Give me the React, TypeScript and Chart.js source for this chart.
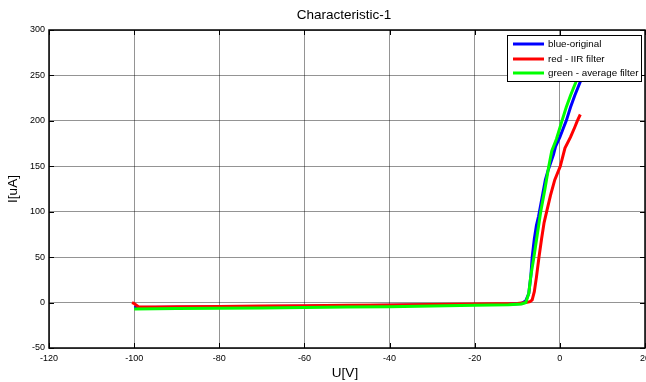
import { useEffect, useRef } from "react";
import { Chart, registerables } from "chart.js";

Chart.register(...registerables);

// Measured I-U characteristic and two filtered versions of it
const blueU = [-100, -90, -80, -70, -60, -50, -40, -30, -20, -12, -9, -8, -7.3, -6.8, -6.5, -6, -5.5, -5, -4.6, -4, -3.4, -2.8, -2.3, -1.5, -1, 0, 0.9, 1.5, 2.5, 3.5, 4.8, 5.5];
const blueI = [-5.5, -5.2, -4.8, -4.4, -4, -3.5, -3, -2.5, -2, -1.8, -1, 2, 10, 30, 50, 70, 85, 95, 105, 120, 135, 145, 152, 163, 172, 182, 193, 200, 215, 228, 243, 252];

const redU = [-100.5, -100, -99, -95, -90, -80, -70, -60, -50, -40, -30, -20, -10, -8, -7, -6.5, -6, -5.5, -4.9, -4.3, -3.7, -3.1, -2.2, -1.2, 0.1, 1.2, 2.5, 3.5, 4.1, 4.8];
const redI = [0, -1, -4.5, -4.8, -4.6, -4.3, -3.9, -3.5, -3, -2.6, -2, -1.5, -1, 0, 1, 3, 12, 28, 50, 70, 88, 100, 118, 135, 150, 170, 182, 193, 200, 207];

const greenU = [-100, -90, -80, -70, -60, -50, -40, -30, -20, -12, -9, -8, -7.3, -6.8, -6.1, -5.3, -4.5, -3.5, -2.6, -1.9, -0.8, 0.5, 1.5, 2.5, 3.7, 4.3];
const greenI = [-7, -6.6, -6.3, -5.9, -5.5, -5, -4.5, -3.8, -3, -2.5, -1.5, 0, 10, 30, 50, 75, 100, 125, 150, 167, 180, 200, 215, 228, 242, 250];

const seriesLabels = ["blue-original", "red - IIR filter", "green - average filter"];
const seriesColors = ["#0000ff", "#ff0000", "#00ff00"];

const xTickMin = -120;
const xTickMax = 20;
const xTickStep = 20;
const yTickMin = -50;
const yTickMax = 300;
const yTickStep = 50;

const chartTitle = "Characteristic-1";
const xTitle = "U[V]";
const yTitle = "I[uA]";

const FONT = "Arial, 'Liberation Sans', sans-serif";

const toPoints = (u: number[], i: number[]) => u.map((x, k) => ({ x, y: i[k] }));

// Axes frame with inward tick marks, titles and a boxed legend inside the plot
const decorations = {
  id: "decorations",
  afterDraw(chart: any) {
    const { ctx, chartArea: a, scales } = chart;
    const xs = scales.x;
    const ys = scales.y;
    ctx.save();
    ctx.strokeStyle = "#000";

    // inward ticks
    ctx.lineWidth = 1;
    ctx.beginPath();
    for (let v = xTickMin; v <= xTickMax; v += xTickStep) {
      const px = Math.round(xs.getPixelForValue(v)) + 0.5;
      ctx.moveTo(px, a.bottom);
      ctx.lineTo(px, a.bottom - 5);
      ctx.moveTo(px, a.top);
      ctx.lineTo(px, a.top + 5);
    }
    for (let v = yTickMin; v <= yTickMax; v += yTickStep) {
      const py = Math.round(ys.getPixelForValue(v)) + 0.5;
      ctx.moveTo(a.left, py);
      ctx.lineTo(a.left + 5, py);
      ctx.moveTo(a.right, py);
      ctx.lineTo(a.right - 5, py);
    }
    ctx.stroke();

    // frame
    ctx.lineWidth = 1.5;
    ctx.strokeRect(a.left, a.top, a.right - a.left, a.bottom - a.top);

    // titles
    ctx.fillStyle = "#000";
    ctx.font = `13.5px ${FONT}`;
    ctx.textAlign = "center";
    ctx.textBaseline = "middle";
    ctx.fillText(chartTitle, 344, 15);
    ctx.fillText(xTitle, 345, 373);
    ctx.save();
    ctx.translate(13.5, 189);
    ctx.rotate(-Math.PI / 2);
    ctx.fillText(yTitle, 0, 0);
    ctx.restore();

    // legend box
    const bx = 507.5, by = 35.5, bw = 134, bh = 46;
    ctx.fillStyle = "#fff";
    ctx.fillRect(bx, by, bw, bh);
    ctx.lineWidth = 1;
    ctx.strokeStyle = "#000";
    ctx.strokeRect(bx, by, bw, bh);
    ctx.font = `9.8px ${FONT}`;
    ctx.textAlign = "left";
    const rowY = [44, 59, 73];
    seriesLabels.forEach((label, k) => {
      ctx.strokeStyle = seriesColors[k];
      ctx.lineWidth = 3;
      ctx.beginPath();
      ctx.moveTo(513, rowY[k]);
      ctx.lineTo(544, rowY[k]);
      ctx.stroke();
      ctx.fillStyle = "#000";
      ctx.fillText(label, 548, rowY[k]);
    });
    ctx.restore();
  },
};

export default function App() {
  const ref = useRef<HTMLCanvasElement>(null);

  useEffect(() => {
    document.body.style.margin = "0";
    const canvas = ref.current;
    if (!canvas) return;
    const data = [toPoints(blueU, blueI), toPoints(redU, redI), toPoints(greenU, greenI)];
    const chart = new Chart(canvas, {
      type: "scatter",
      data: {
        datasets: data.map((pts, k) => ({
          label: seriesLabels[k],
          data: pts,
          showLine: true,
          borderColor: seriesColors[k],
          backgroundColor: seriesColors[k],
          borderWidth: 3,
          pointRadius: 0,
          tension: 0,
          order: 3 - k,
        })),
      },
      options: {
        responsive: false,
        animation: false,
        devicePixelRatio: 1,
        layout: { padding: { top: 30, right: 1, left: 0, bottom: 0 } },
        plugins: {
          legend: { display: false },
          title: { display: false },
          tooltip: { enabled: false },
        },
        scales: {
          x: {
            type: "linear",
            min: xTickMin,
            max: xTickMax,
            ticks: {
              stepSize: xTickStep,
              padding: 5,
              color: "#000",
              font: { family: FONT, size: 9 },
              maxRotation: 0,
            },
            grid: { color: "rgba(0,0,0,0.42)", drawTicks: false, lineWidth: 1 },
            border: { display: false },
            afterFit(scale: any) {
              scale.height = 34;
              scale.paddingLeft = 0;
              scale.paddingRight = 0;
            },
          },
          y: {
            type: "linear",
            min: yTickMin,
            max: yTickMax,
            ticks: {
              stepSize: yTickStep,
              padding: 4,
              color: "#000",
              font: { family: FONT, size: 9 },
            },
            grid: { color: "rgba(0,0,0,0.42)", drawTicks: false, lineWidth: 1 },
            border: { display: false },
            afterFit(scale: any) {
              scale.width = 49;
              scale.paddingTop = 0;
              scale.paddingBottom = 0;
            },
          },
        },
      },
      plugins: [decorations],
    });
    return () => chart.destroy();
  }, []);

  return <canvas ref={ref} width={646} height={382} style={{ display: "block" }} />;
}
